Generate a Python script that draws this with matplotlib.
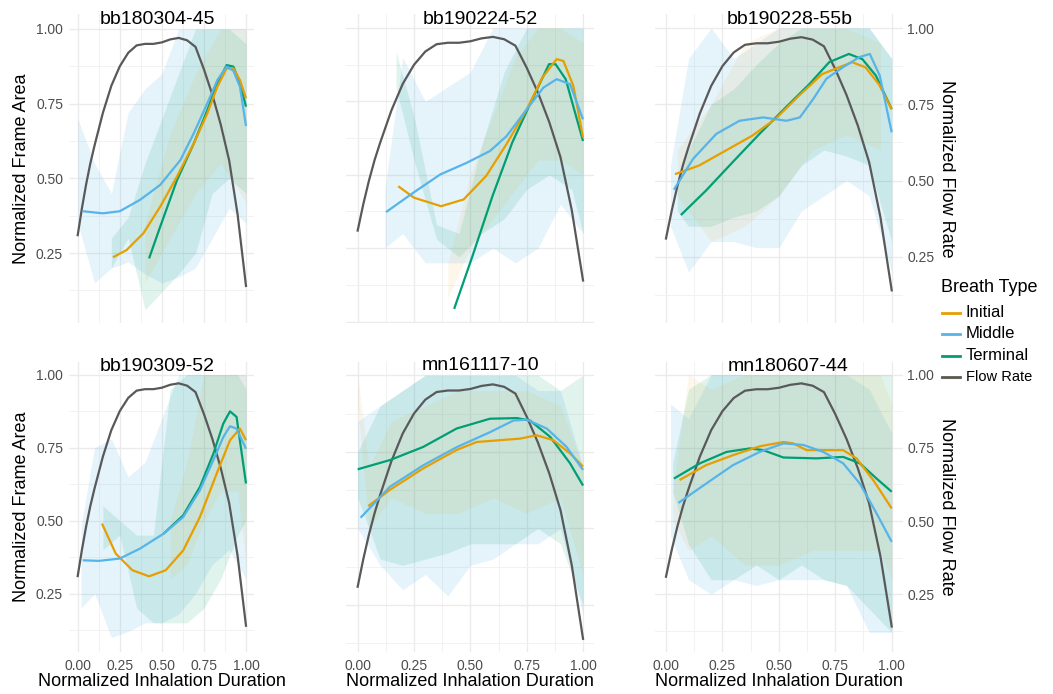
import matplotlib
matplotlib.use("Agg")
import matplotlib.pyplot as plt
from matplotlib.lines import Line2D
from matplotlib.ticker import MultipleLocator

plt.rcParams['font.family'] = ['Liberation Sans', 'DejaVu Sans']

panel_names = ['bb180304-45', 'bb190224-52', 'bb190228-55b',
               'bb190309-52', 'mn161117-10', 'mn180607-44']
breath_types = ['Initial', 'Middle', 'Terminal']
x_ticks = [0.0, 0.25, 0.5, 0.75, 1.0]

# flow rate curve (same shape in every panel)
flow_x = [0.0, 0.025, 0.05, 0.075, 0.1, 0.15, 0.2, 0.25, 0.3, 0.35, 0.4, 0.45, 0.5,
          0.55, 0.6, 0.65, 0.7, 0.75, 0.8, 0.85, 0.9, 0.95, 1.0]
flow_y = [0.31, 0.40, 0.48, 0.55, 0.61, 0.72, 0.81, 0.875, 0.92, 0.945, 0.95, 0.95, 0.955,
          0.965, 0.97, 0.962, 0.94, 0.865, 0.78, 0.68, 0.56, 0.38, 0.14]

# ---- bb180304-45 ----
p1_init_x = [0.21, 0.29, 0.39, 0.49, 0.59, 0.69, 0.77, 0.83, 0.885, 0.925, 0.964, 1.0]
p1_init_y = [0.236, 0.26, 0.316, 0.405, 0.506, 0.617, 0.717, 0.807, 0.868, 0.868, 0.829, 0.768]
p1_mid_x = [0.03, 0.15, 0.25, 0.37, 0.49, 0.61, 0.69, 0.77, 0.83, 0.885, 0.925, 0.964, 1.0]
p1_mid_y = [0.39, 0.383, 0.39, 0.428, 0.478, 0.561, 0.651, 0.751, 0.829, 0.874, 0.86, 0.807, 0.675]
p1_term_x = [0.424, 0.49, 0.59, 0.69, 0.77, 0.83, 0.885, 0.925, 0.964, 1.0]
p1_term_y = [0.232, 0.338, 0.494, 0.617, 0.728, 0.819, 0.879, 0.874, 0.82, 0.74]
p1_mid_raw_x = [0.0, 0.1, 0.2, 0.3, 0.4, 0.5, 0.6, 0.7, 0.8, 0.9, 1.0]
p1_mid_raw_lo = [0.35, 0.15, 0.2, 0.22, 0.18, 0.15, 0.17, 0.2, 0.3, 0.4, 0.35]
p1_mid_raw_hi = [0.7, 0.55, 0.45, 0.72, 0.8, 0.85, 1.0, 1.0, 1.0, 1.0, 1.0]
p1_term_raw_x = [0.2, 0.3, 0.4, 0.5, 0.6, 0.7, 0.8, 0.9, 1.0]
p1_term_raw_lo = [0.2, 0.3, 0.06, 0.12, 0.18, 0.25, 0.45, 0.5, 0.45]
p1_term_raw_hi = [0.3, 0.37, 0.55, 0.7, 0.85, 1.0, 1.0, 1.0, 0.95]
p1_init_raw_x = [0.4, 0.55, 0.7, 0.85, 1.0]
p1_init_raw_lo = [0.15, 0.3, 0.45, 0.55, 0.42]
p1_init_raw_hi = [0.35, 0.65, 0.85, 1.0, 1.0]

# ---- bb190224-52 ----
p2_init_x = [0.18, 0.25, 0.37, 0.47, 0.57, 0.66, 0.75, 0.82, 0.883, 0.913, 0.957, 1.0]
p2_init_y = [0.461, 0.422, 0.393, 0.416, 0.496, 0.604, 0.723, 0.832, 0.894, 0.888, 0.803, 0.627]
p2_mid_x = [0.126, 0.247, 0.366, 0.484, 0.587, 0.661, 0.75, 0.824, 0.883, 0.942, 1.0]
p2_mid_y = [0.373, 0.439, 0.501, 0.541, 0.581, 0.632, 0.723, 0.797, 0.826, 0.809, 0.689]
p2_term_x = [0.428, 0.509, 0.598, 0.686, 0.775, 0.849, 0.878, 0.923, 1.0]
p2_term_y = [0.043, 0.222, 0.427, 0.61, 0.758, 0.877, 0.877, 0.826, 0.615]
p2_mid_raw_x = [0.12, 0.2, 0.3, 0.4, 0.5, 0.6, 0.7, 0.8, 0.9, 1.0]
p2_mid_raw_lo = [0.25, 0.3, 0.2, 0.2, 0.2, 0.25, 0.2, 0.25, 0.4, 0.3]
p2_mid_raw_hi = [0.45, 0.9, 0.75, 0.8, 0.85, 1.0, 1.0, 1.0, 1.0, 1.0]
p2_term_raw_x = [0.17, 0.25, 0.35, 0.45, 0.55, 0.65, 0.75, 0.85, 0.95, 1.0]
p2_term_raw_lo = [0.8, 0.55, 0.28, 0.22, 0.3, 0.35, 0.45, 0.5, 0.45, 0.3]
p2_term_raw_hi = [0.92, 0.7, 0.33, 0.3, 0.6, 0.85, 1.0, 1.0, 1.0, 1.0]
p2_init_raw_x = [0.4, 0.5, 0.6, 0.7, 0.8, 0.9, 1.0]
p2_init_raw_lo = [0.08, 0.25, 0.35, 0.45, 0.55, 0.55, 0.5]
p2_init_raw_hi = [0.2, 0.5, 0.7, 0.9, 1.0, 1.0, 0.95]

# ---- bb190228-55b ----
p3_init_x = [0.04, 0.146, 0.264, 0.382, 0.485, 0.589, 0.692, 0.766, 0.825, 0.884, 0.943, 1.0]
p3_init_y = [0.521, 0.549, 0.598, 0.647, 0.702, 0.778, 0.849, 0.871, 0.888, 0.871, 0.816, 0.734]
p3_mid_x = [0.035, 0.12, 0.223, 0.326, 0.43, 0.534, 0.593, 0.652, 0.711, 0.785, 0.858, 0.903, 0.947, 1.0]
p3_mid_y = [0.47, 0.571, 0.653, 0.696, 0.707, 0.696, 0.707, 0.767, 0.834, 0.872, 0.905, 0.915, 0.844, 0.658]
p3_term_x = [0.066, 0.177, 0.295, 0.413, 0.531, 0.635, 0.723, 0.81, 0.87, 0.93, 1.0]
p3_term_y = [0.387, 0.467, 0.56, 0.652, 0.74, 0.816, 0.888, 0.915, 0.898, 0.844, 0.734]
p3_mid_raw_x = [0.02, 0.1, 0.2, 0.3, 0.4, 0.5, 0.6, 0.7, 0.8, 0.9, 1.0]
p3_mid_raw_lo = [0.35, 0.2, 0.3, 0.3, 0.28, 0.28, 0.4, 0.45, 0.5, 0.45, 0.2]
p3_mid_raw_hi = [0.55, 0.9, 1.0, 0.9, 0.95, 1.0, 1.0, 1.0, 1.0, 1.0, 0.9]
p3_term_raw_x = [0.05, 0.1, 0.2, 0.3, 0.4, 0.5, 0.6, 0.7, 0.8, 0.9, 1.0]
p3_term_raw_lo = [0.4, 0.35, 0.35, 0.38, 0.4, 0.45, 0.55, 0.6, 0.58, 0.55, 0.3]
p3_term_raw_hi = [0.48, 0.6, 0.75, 0.8, 0.88, 0.95, 1.0, 1.0, 1.0, 1.0, 0.9]
p3_init_raw_x = [0.05, 0.2, 0.35, 0.5, 0.65, 0.8, 0.95]
p3_init_raw_lo = [0.45, 0.3, 0.35, 0.45, 0.6, 0.65, 0.6]
p3_init_raw_hi = [0.6, 0.75, 0.95, 1.0, 1.0, 1.0, 0.95]

# ---- bb190309-52 ----
p4_init_x = [0.144, 0.226, 0.325, 0.424, 0.523, 0.627, 0.726, 0.826, 0.905, 0.964, 1.0]
p4_init_y = [0.49, 0.387, 0.33, 0.309, 0.33, 0.398, 0.512, 0.661, 0.775, 0.815, 0.775]
p4_mid_x = [0.03, 0.127, 0.25, 0.37, 0.51, 0.627, 0.726, 0.806, 0.865, 0.905, 0.944, 1.0]
p4_mid_y = [0.364, 0.362, 0.37, 0.404, 0.455, 0.512, 0.604, 0.707, 0.786, 0.823, 0.815, 0.746]
p4_term_x = [0.51, 0.627, 0.726, 0.806, 0.865, 0.905, 0.944, 1.0]
p4_term_y = [0.455, 0.518, 0.615, 0.729, 0.832, 0.874, 0.855, 0.627]
p4_mid_raw_x = [0.02, 0.1, 0.2, 0.3, 0.4, 0.5, 0.6, 0.7, 0.8, 0.9, 1.0]
p4_mid_raw_lo = [0.2, 0.25, 0.1, 0.12, 0.15, 0.15, 0.18, 0.25, 0.35, 0.4, 0.3]
p4_mid_raw_hi = [0.48, 0.75, 0.78, 0.65, 0.7, 0.85, 1.0, 1.0, 1.0, 1.0, 1.0]
p4_term_raw_x = [0.15, 0.25, 0.35, 0.45, 0.55, 0.65, 0.75, 0.85, 0.95, 1.0]
p4_term_raw_lo = [0.4, 0.45, 0.2, 0.15, 0.15, 0.15, 0.2, 0.3, 0.45, 0.5]
p4_term_raw_hi = [0.55, 0.5, 0.45, 0.45, 0.95, 1.0, 1.0, 1.0, 1.0, 0.95]
p4_init_raw_x = [0.55, 0.65, 0.75, 0.85, 0.95, 1.0]
p4_init_raw_lo = [0.3, 0.35, 0.5, 0.6, 0.6, 0.35]
p4_init_raw_hi = [0.5, 0.7, 1.0, 1.0, 1.0, 1.0]

# ---- mn161117-10 ----
p5_init_x = [0.047, 0.143, 0.291, 0.439, 0.528, 0.632, 0.72, 0.794, 0.868, 0.942, 1.0]
p5_init_y = [0.573, 0.626, 0.696, 0.756, 0.782, 0.788, 0.793, 0.804, 0.788, 0.745, 0.702]
p5_mid_x = [0.013, 0.143, 0.291, 0.439, 0.587, 0.691, 0.75, 0.839, 0.927, 1.0]
p5_mid_y = [0.535, 0.636, 0.706, 0.765, 0.814, 0.852, 0.855, 0.826, 0.766, 0.691]
p5_term_x = [0.0, 0.143, 0.291, 0.439, 0.587, 0.706, 0.765, 0.854, 0.942, 1.0]
p5_term_y = [0.693, 0.723, 0.766, 0.826, 0.858, 0.86, 0.852, 0.799, 0.713, 0.64]
p5_mid_raw_x = [0.0, 0.1, 0.2, 0.3, 0.4, 0.5, 0.6, 0.7, 0.8, 0.9, 1.0]
p5_mid_raw_lo = [0.5, 0.38, 0.3, 0.35, 0.28, 0.38, 0.4, 0.45, 0.45, 0.5, 0.22]
p5_mid_raw_hi = [0.85, 0.9, 0.95, 1.0, 1.0, 1.0, 1.0, 1.0, 0.95, 0.95, 0.7]
p5_term_raw_x = [0.0, 0.1, 0.2, 0.3, 0.4, 0.5, 0.6, 0.7, 0.8, 0.9, 1.0]
p5_term_raw_lo = [0.6, 0.4, 0.38, 0.4, 0.42, 0.45, 0.45, 0.45, 0.5, 0.45, 0.25]
p5_term_raw_hi = [0.75, 0.9, 0.95, 1.0, 1.0, 1.0, 1.0, 1.0, 1.0, 0.95, 1.0]
p5_init_raw_x = [0.0, 0.05, 0.15, 0.3, 0.45, 0.6, 0.75, 0.9, 1.0]
p5_init_raw_lo = [0.9, 0.5, 0.6, 0.55, 0.55, 0.6, 0.55, 0.6, 0.35]
p5_init_raw_hi = [1.0, 0.7, 0.85, 0.9, 0.95, 0.95, 0.95, 0.9, 0.7]

# ---- mn180607-44 ----
p6_init_x = [0.06, 0.178, 0.297, 0.415, 0.52, 0.564, 0.623, 0.697, 0.785, 0.844, 0.918, 1.0]
p6_init_y = [0.64, 0.691, 0.725, 0.755, 0.77, 0.765, 0.742, 0.742, 0.742, 0.714, 0.64, 0.543]
p6_mid_x = [0.055, 0.178, 0.297, 0.415, 0.52, 0.608, 0.697, 0.785, 0.859, 0.933, 1.0]
p6_mid_y = [0.562, 0.628, 0.691, 0.736, 0.765, 0.76, 0.736, 0.697, 0.628, 0.526, 0.429]
p6_term_x = [0.035, 0.15, 0.268, 0.372, 0.431, 0.52, 0.667, 0.785, 0.859, 0.933, 1.0]
p6_term_y = [0.645, 0.697, 0.736, 0.748, 0.742, 0.717, 0.714, 0.719, 0.697, 0.645, 0.6]
p6_mid_raw_x = [0.02, 0.1, 0.2, 0.3, 0.4, 0.5, 0.6, 0.7, 0.8, 0.9, 1.0]
p6_mid_raw_lo = [0.45, 0.3, 0.25, 0.3, 0.28, 0.3, 0.3, 0.3, 0.28, 0.12, 0.12]
p6_mid_raw_hi = [0.9, 0.85, 1.0, 1.0, 1.0, 1.0, 1.0, 1.0, 1.0, 0.95, 0.8]
p6_term_raw_x = [0.03, 0.1, 0.2, 0.3, 0.4, 0.5, 0.6, 0.7, 0.8, 0.9, 1.0]
p6_term_raw_lo = [0.6, 0.42, 0.3, 0.3, 0.35, 0.3, 0.35, 0.3, 0.28, 0.2, 0.12]
p6_term_raw_hi = [0.7, 0.95, 1.0, 1.0, 1.0, 1.0, 1.0, 1.0, 1.0, 1.0, 1.0]
p6_init_raw_x = [0.03, 0.1, 0.2, 0.35, 0.5, 0.65, 0.8, 0.95, 1.0]
p6_init_raw_lo = [0.5, 0.4, 0.45, 0.35, 0.35, 0.4, 0.4, 0.4, 0.3]
p6_init_raw_hi = [0.6, 1.0, 0.95, 1.0, 1.0, 1.0, 1.0, 1.0, 0.9]

colors = {'Initial': '#E69F00', 'Middle': '#56B4E9', 'Terminal': '#009E73'}
raw_alpha = {'Initial': 0.08, 'Middle': 0.15, 'Terminal': 0.12}
flow_color = '#595959'

panels = [
    dict(curves={'Initial': (p1_init_x, p1_init_y), 'Middle': (p1_mid_x, p1_mid_y), 'Terminal': (p1_term_x, p1_term_y)},
         raw={'Initial': (p1_init_raw_x, p1_init_raw_lo, p1_init_raw_hi), 'Middle': (p1_mid_raw_x, p1_mid_raw_lo, p1_mid_raw_hi),
              'Terminal': (p1_term_raw_x, p1_term_raw_lo, p1_term_raw_hi)}),
    dict(curves={'Initial': (p2_init_x, p2_init_y), 'Middle': (p2_mid_x, p2_mid_y), 'Terminal': (p2_term_x, p2_term_y)},
         raw={'Initial': (p2_init_raw_x, p2_init_raw_lo, p2_init_raw_hi), 'Middle': (p2_mid_raw_x, p2_mid_raw_lo, p2_mid_raw_hi),
              'Terminal': (p2_term_raw_x, p2_term_raw_lo, p2_term_raw_hi)}),
    dict(curves={'Initial': (p3_init_x, p3_init_y), 'Middle': (p3_mid_x, p3_mid_y), 'Terminal': (p3_term_x, p3_term_y)},
         raw={'Initial': (p3_init_raw_x, p3_init_raw_lo, p3_init_raw_hi), 'Middle': (p3_mid_raw_x, p3_mid_raw_lo, p3_mid_raw_hi),
              'Terminal': (p3_term_raw_x, p3_term_raw_lo, p3_term_raw_hi)}),
    dict(curves={'Initial': (p4_init_x, p4_init_y), 'Middle': (p4_mid_x, p4_mid_y), 'Terminal': (p4_term_x, p4_term_y)},
         raw={'Initial': (p4_init_raw_x, p4_init_raw_lo, p4_init_raw_hi), 'Middle': (p4_mid_raw_x, p4_mid_raw_lo, p4_mid_raw_hi),
              'Terminal': (p4_term_raw_x, p4_term_raw_lo, p4_term_raw_hi)}),
    dict(curves={'Initial': (p5_init_x, p5_init_y), 'Middle': (p5_mid_x, p5_mid_y), 'Terminal': (p5_term_x, p5_term_y)},
         raw={'Initial': (p5_init_raw_x, p5_init_raw_lo, p5_init_raw_hi), 'Middle': (p5_mid_raw_x, p5_mid_raw_lo, p5_mid_raw_hi),
              'Terminal': (p5_term_raw_x, p5_term_raw_lo, p5_term_raw_hi)}),
    dict(curves={'Initial': (p6_init_x, p6_init_y), 'Middle': (p6_mid_x, p6_mid_y), 'Terminal': (p6_term_x, p6_term_y)},
         raw={'Initial': (p6_init_raw_x, p6_init_raw_lo, p6_init_raw_hi), 'Middle': (p6_mid_raw_x, p6_mid_raw_lo, p6_mid_raw_hi),
              'Terminal': (p6_term_raw_x, p6_term_raw_lo, p6_term_raw_hi)}),
]

# layout in pixels
W, H = 1053, 694
cols = [(69.3, 254.4), (346.4, 594.3), (654.7, 903.0)]
rows = [(14, 323), (362, 652)]
ylims = [(0.016, 1.05), (-0.005, 1.048), (0.033, 1.046),
         (0.05, 1.043), (0.097, 1.043), (0.053, 1.043)]
title_pos = [(157, 20), (480, 20), (790, 20), (157.5, 367), (480.5, 366), (788, 367)]
tick_color = '#4D4D4D'

fig = plt.figure(figsize=(W / 100, H / 100), dpi=100)

for i, p in enumerate(panels):
    r, c = divmod(i, 3)
    x0, x1 = cols[c]
    y0, y1 = rows[r]
    ax = fig.add_axes([x0 / W, 1 - y1 / H, (x1 - x0) / W, (y1 - y0) / H])
    ax.set_xlim(-0.05, 1.05)
    ax.set_ylim(*ylims[i])
    for s in ax.spines.values():
        s.set_visible(False)
    ax.xaxis.set_major_locator(MultipleLocator(0.25))
    ax.xaxis.set_minor_locator(MultipleLocator(0.125))
    ax.yaxis.set_major_locator(MultipleLocator(0.25))
    ax.yaxis.set_minor_locator(MultipleLocator(0.125))
    ax.grid(which='major', color='#EBEBEB', lw=1.0, zorder=0)
    ax.grid(which='minor', color='#F2F2F2', lw=0.7, zorder=0)
    ax.set_axisbelow(True)
    ax.tick_params(which='both', length=0, labelsize=10, labelcolor=tick_color)

    if r == 1:
        ax.set_xticks(x_ticks)
        ax.set_xticklabels(['%.2f' % v for v in x_ticks])
        ax.tick_params(axis='x', pad=5)
    else:
        ax.tick_params(axis='x', labelbottom=False)

    if c == 0:
        ax.set_yticks([0.25, 0.5, 0.75, 1.0])
        ax.set_yticklabels(['0.25', '0.50', '0.75', '1.00'])
        ax.tick_params(axis='y', pad=4.5)
    elif c == 2:
        ax.yaxis.tick_right()
        ax.set_yticks([0.25, 0.5, 0.75, 1.0])
        ax.set_yticklabels(['0.25', '0.50', '0.75', '1.00'])
        ax.tick_params(axis='y', which='both', length=0, pad=3)
    else:
        ax.tick_params(axis='y', labelleft=False)

    # raw traces as translucent envelopes
    for bt in ['Middle', 'Terminal', 'Initial']:
        rx, lo, hi = p['raw'][bt]
        ax.fill_between(rx, lo, hi, color=colors[bt], alpha=raw_alpha[bt], lw=0, zorder=1)

    ax.plot(flow_x, flow_y, color=flow_color, lw=1.6, zorder=3, solid_joinstyle='round')
    for bt in ['Terminal', 'Initial', 'Middle']:
        cx, cy = p['curves'][bt]
        ax.plot(cx, cy, color=colors[bt], lw=1.6, zorder=4,
                solid_joinstyle='round', solid_capstyle='butt')

    tx, ty = title_pos[i]
    fig.text(tx / W, 1 - ty / H, panel_names[i], fontsize=14, ha='center', va='center')

# axis titles
for (x0, x1) in cols:
    fig.text((x0 + x1) / 2 / W, 1 - 681.5 / H, 'Normalized Inhalation Duration',
             fontsize=13, ha='center', va='center')
for (y0, y1) in rows:
    fig.text(21.7 / W, 1 - (y0 + y1) / 2 / H, 'Normalized Frame Area',
             rotation=90, fontsize=13, ha='center', va='center')
    fig.text(946 / W, 1 - (y0 + y1) / 2 / H, 'Normalized Flow Rate',
             rotation=270, fontsize=13, ha='center', va='center')

# legend drawn by hand
fig.text(941 / W, 1 - 287 / H, 'Breath Type', fontsize=13, ha='left', va='center')
legend_rows = [('Initial', colors['Initial'], 312.7, 12),
               ('Middle', colors['Middle'], 334, 12),
               ('Terminal', colors['Terminal'], 356, 12),
               ('Flow Rate', flow_color, 376.7, 10.5)]
for label, col, yy, fs in legend_rows:
    if label == 'Flow Rate':
        fig.add_artist(Line2D([941.7 / W, 960 / W], [1 - (yy + 0.8) / H] * 2,
                              color=colors['Initial'], lw=1.6, alpha=0.6))
    fig.add_artist(Line2D([941.7 / W, 960 / W], [1 - yy / H] * 2, color=col, lw=2.0))
    fig.text(965.5 / W, 1 - yy / H, label, fontsize=fs, ha='left', va='center')

fig.savefig('out.png', dpi=100)
